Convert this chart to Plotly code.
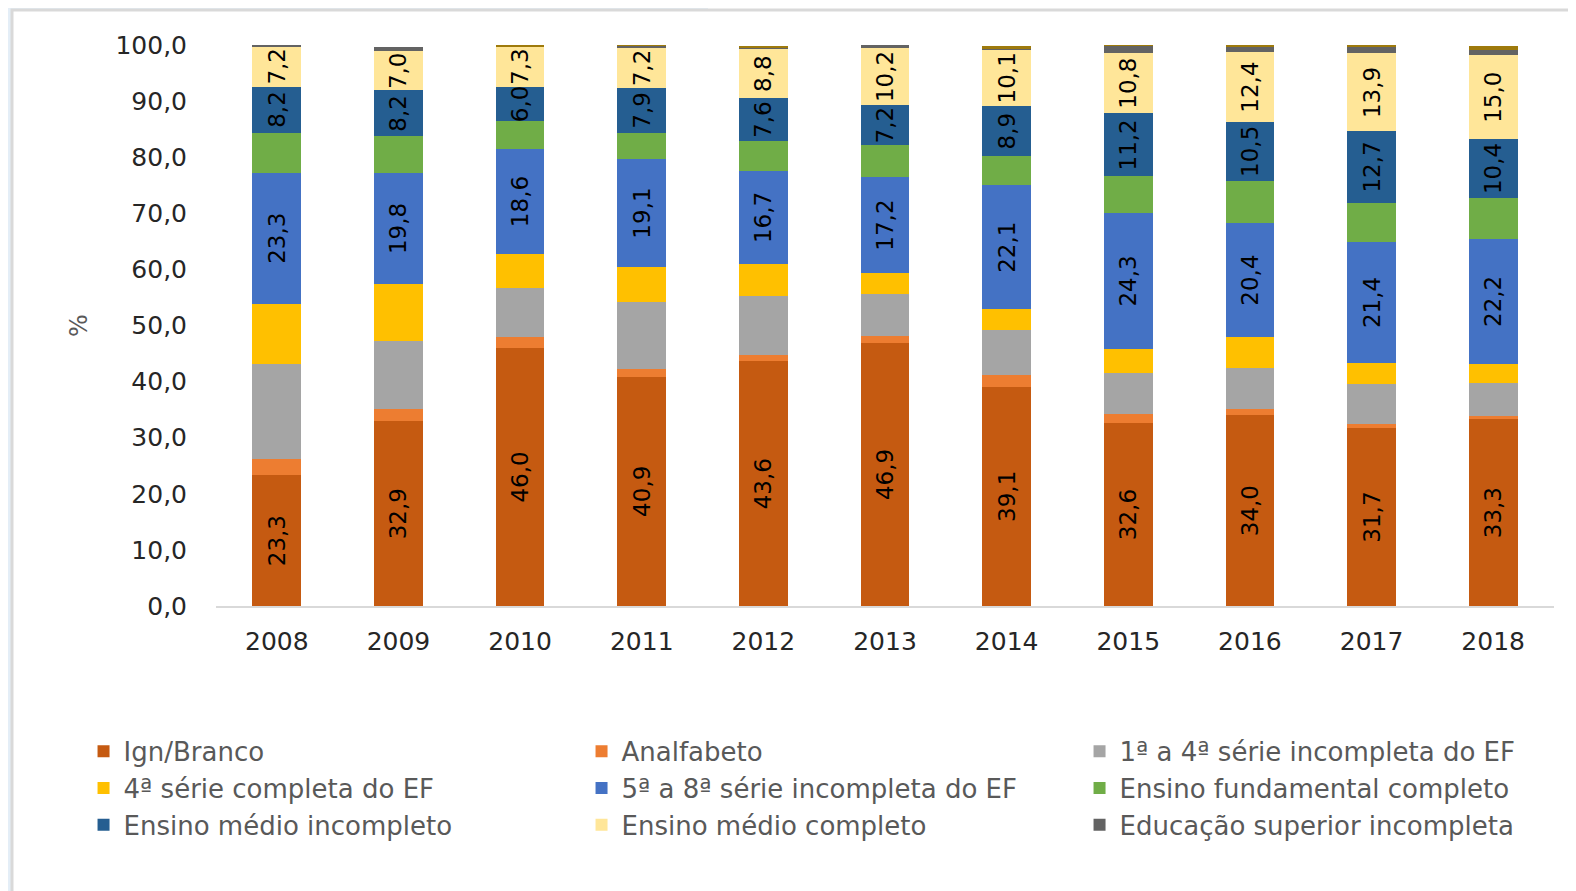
import plotly.graph_objects as go

anos = ["2008", "2009", "2010", "2011", "2012", "2013", "2014", "2015", "2016", "2017", "2018"]

ign_branco = [23.3, 32.9, 46.0, 40.9, 43.6, 46.9, 39.1, 32.6, 34.0, 31.7, 33.3]
analfabeto = [2.9, 2.2, 1.9, 1.3, 1.1, 1.2, 2.0, 1.7, 1.1, 0.8, 0.5]
ef_1a4_inc = [17.0, 12.1, 8.8, 12.0, 10.5, 7.6, 8.1, 7.3, 7.3, 7.0, 6.0]
ef_4_comp = [10.7, 10.2, 6.1, 6.3, 5.7, 3.6, 3.7, 4.2, 5.5, 3.9, 3.4]
ef_5a8_inc = [23.3, 19.8, 18.6, 19.1, 16.7, 17.2, 22.1, 24.3, 20.4, 21.4, 22.2]
ef_comp = [7.2, 6.5, 5.1, 4.8, 5.3, 5.6, 5.2, 6.5, 7.5, 7.1, 7.4]
em_inc = [8.2, 8.2, 6.0, 7.9, 7.6, 7.2, 8.9, 11.2, 10.5, 12.7, 10.4]
em_comp = [7.2, 7.0, 7.3, 7.2, 8.8, 10.2, 10.1, 10.8, 12.4, 13.9, 15.0]
sup_inc = [0.2, 0.8, 0.0, 0.4, 0.2, 0.6, 0.1, 1.3, 0.9, 1.1, 0.9]
sup_comp = [0.0, 0.0, 0.2, 0.2, 0.3, 0.1, 0.6, 0.1, 0.5, 0.4, 0.8]

series = [
    ("Ign/Branco", ign_branco, "#C55A11", True),
    ("Analfabeto", analfabeto, "#ED7D31", False),
    ("1ª a 4ª série incompleta do EF", ef_1a4_inc, "#A5A5A5", False),
    ("4ª série completa do EF", ef_4_comp, "#FFC000", False),
    ("5ª a 8ª série incompleta do EF", ef_5a8_inc, "#4472C4", True),
    ("Ensino fundamental completo", ef_comp, "#70AD47", False),
    ("Ensino médio incompleto", em_inc, "#255E91", True),
    ("Ensino médio completo", em_comp, "#FFE699", True),
    ("Educação superior incompleta", sup_inc, "#636363", False),
]

FONTE = "DejaVu Sans"

# área do gráfico dentro da figura (a página tem 8px de margem no body)
L, T, W, H = 208, 37, 1338, 561

fig = go.Figure()

for nome, valores, cor, rotulo in series:
    fig.add_trace(go.Bar(
        x=anos, y=valores, name=nome,
        marker=dict(color=cor, line=dict(width=0)),
        text=[f"{v:.1f}".replace(".", ",") for v in valores] if rotulo else None,
        textposition="inside" if rotulo else "none",
        textangle=-90,
        insidetextanchor="middle",
        constraintext="none",
        textfont=dict(size=23, color="black", family=FONTE),
        hoverinfo="x+y+name",
    ))

# topo das barras (não aparece na legenda)
fig.add_trace(go.Bar(
    x=anos, y=sup_comp, name="Educação superior completa",
    marker=dict(color="#9E7A0C", line=dict(width=0)),
    showlegend=False,
))

fig.update_layout(
    barmode="stack",
    bargap=0.6,
    width=1568, height=883,
    margin=dict(l=L, r=1568 - L - W, t=T, b=883 - T - H, autoexpand=False),
    paper_bgcolor="white",
    plot_bgcolor="white",
    separators=",.",
    font=dict(family=FONTE, size=25, color="#262626"),
    xaxis=dict(
        showline=True, linecolor="#D9D9D9", linewidth=2,
        ticks="", ticklabelstandoff=12,
        tickfont=dict(size=25, color="#262626"),
    ),
    yaxis=dict(
        range=[0, 100], dtick=10, tickformat=".1f",
        showgrid=False, zeroline=False, showline=False,
        ticklabelstandoff=28,
        tickfont=dict(size=25, color="#262626"),
        title=dict(text="%", font=dict(size=24, color="#595959"), standoff=21),
    ),
    legend=dict(
        orientation="h",
        x=-0.099, y=-0.217, xanchor="left", yanchor="top",
        entrywidth=453, entrywidthmode="pixels",
        font=dict(size=26, color="#595959"),
        traceorder="normal",
        itemsizing="constant",
    ),
    shapes=[
        dict(type="rect", xref="paper", yref="paper", layer="below",
             x0=-(L + 8) / W, x1=(700 - L) / W, y0=1 + (T - 2) / H, y1=1 + (T + 8) / H,
             fillcolor="#E4EEF7", line=dict(width=0)),
        dict(type="rect", xref="paper", yref="paper", layer="below",
             x0=-(L + 8) / W, x1=(4 - L) / W, y0=-(883 - T - H) / H, y1=1 + (T + 8) / H,
             fillcolor="#E4EEF7", line=dict(width=0)),
        dict(type="rect", xref="paper", yref="paper", layer="below",
             x0=(4 - L) / W, x1=(1580 - L) / W, y0=-(900 - T - H) / H, y1=1 + (T - 2) / H,
             fillcolor="white", line=dict(width=3, color="#D9D9D9")),
    ],
)

fig.write_html("out.html")
